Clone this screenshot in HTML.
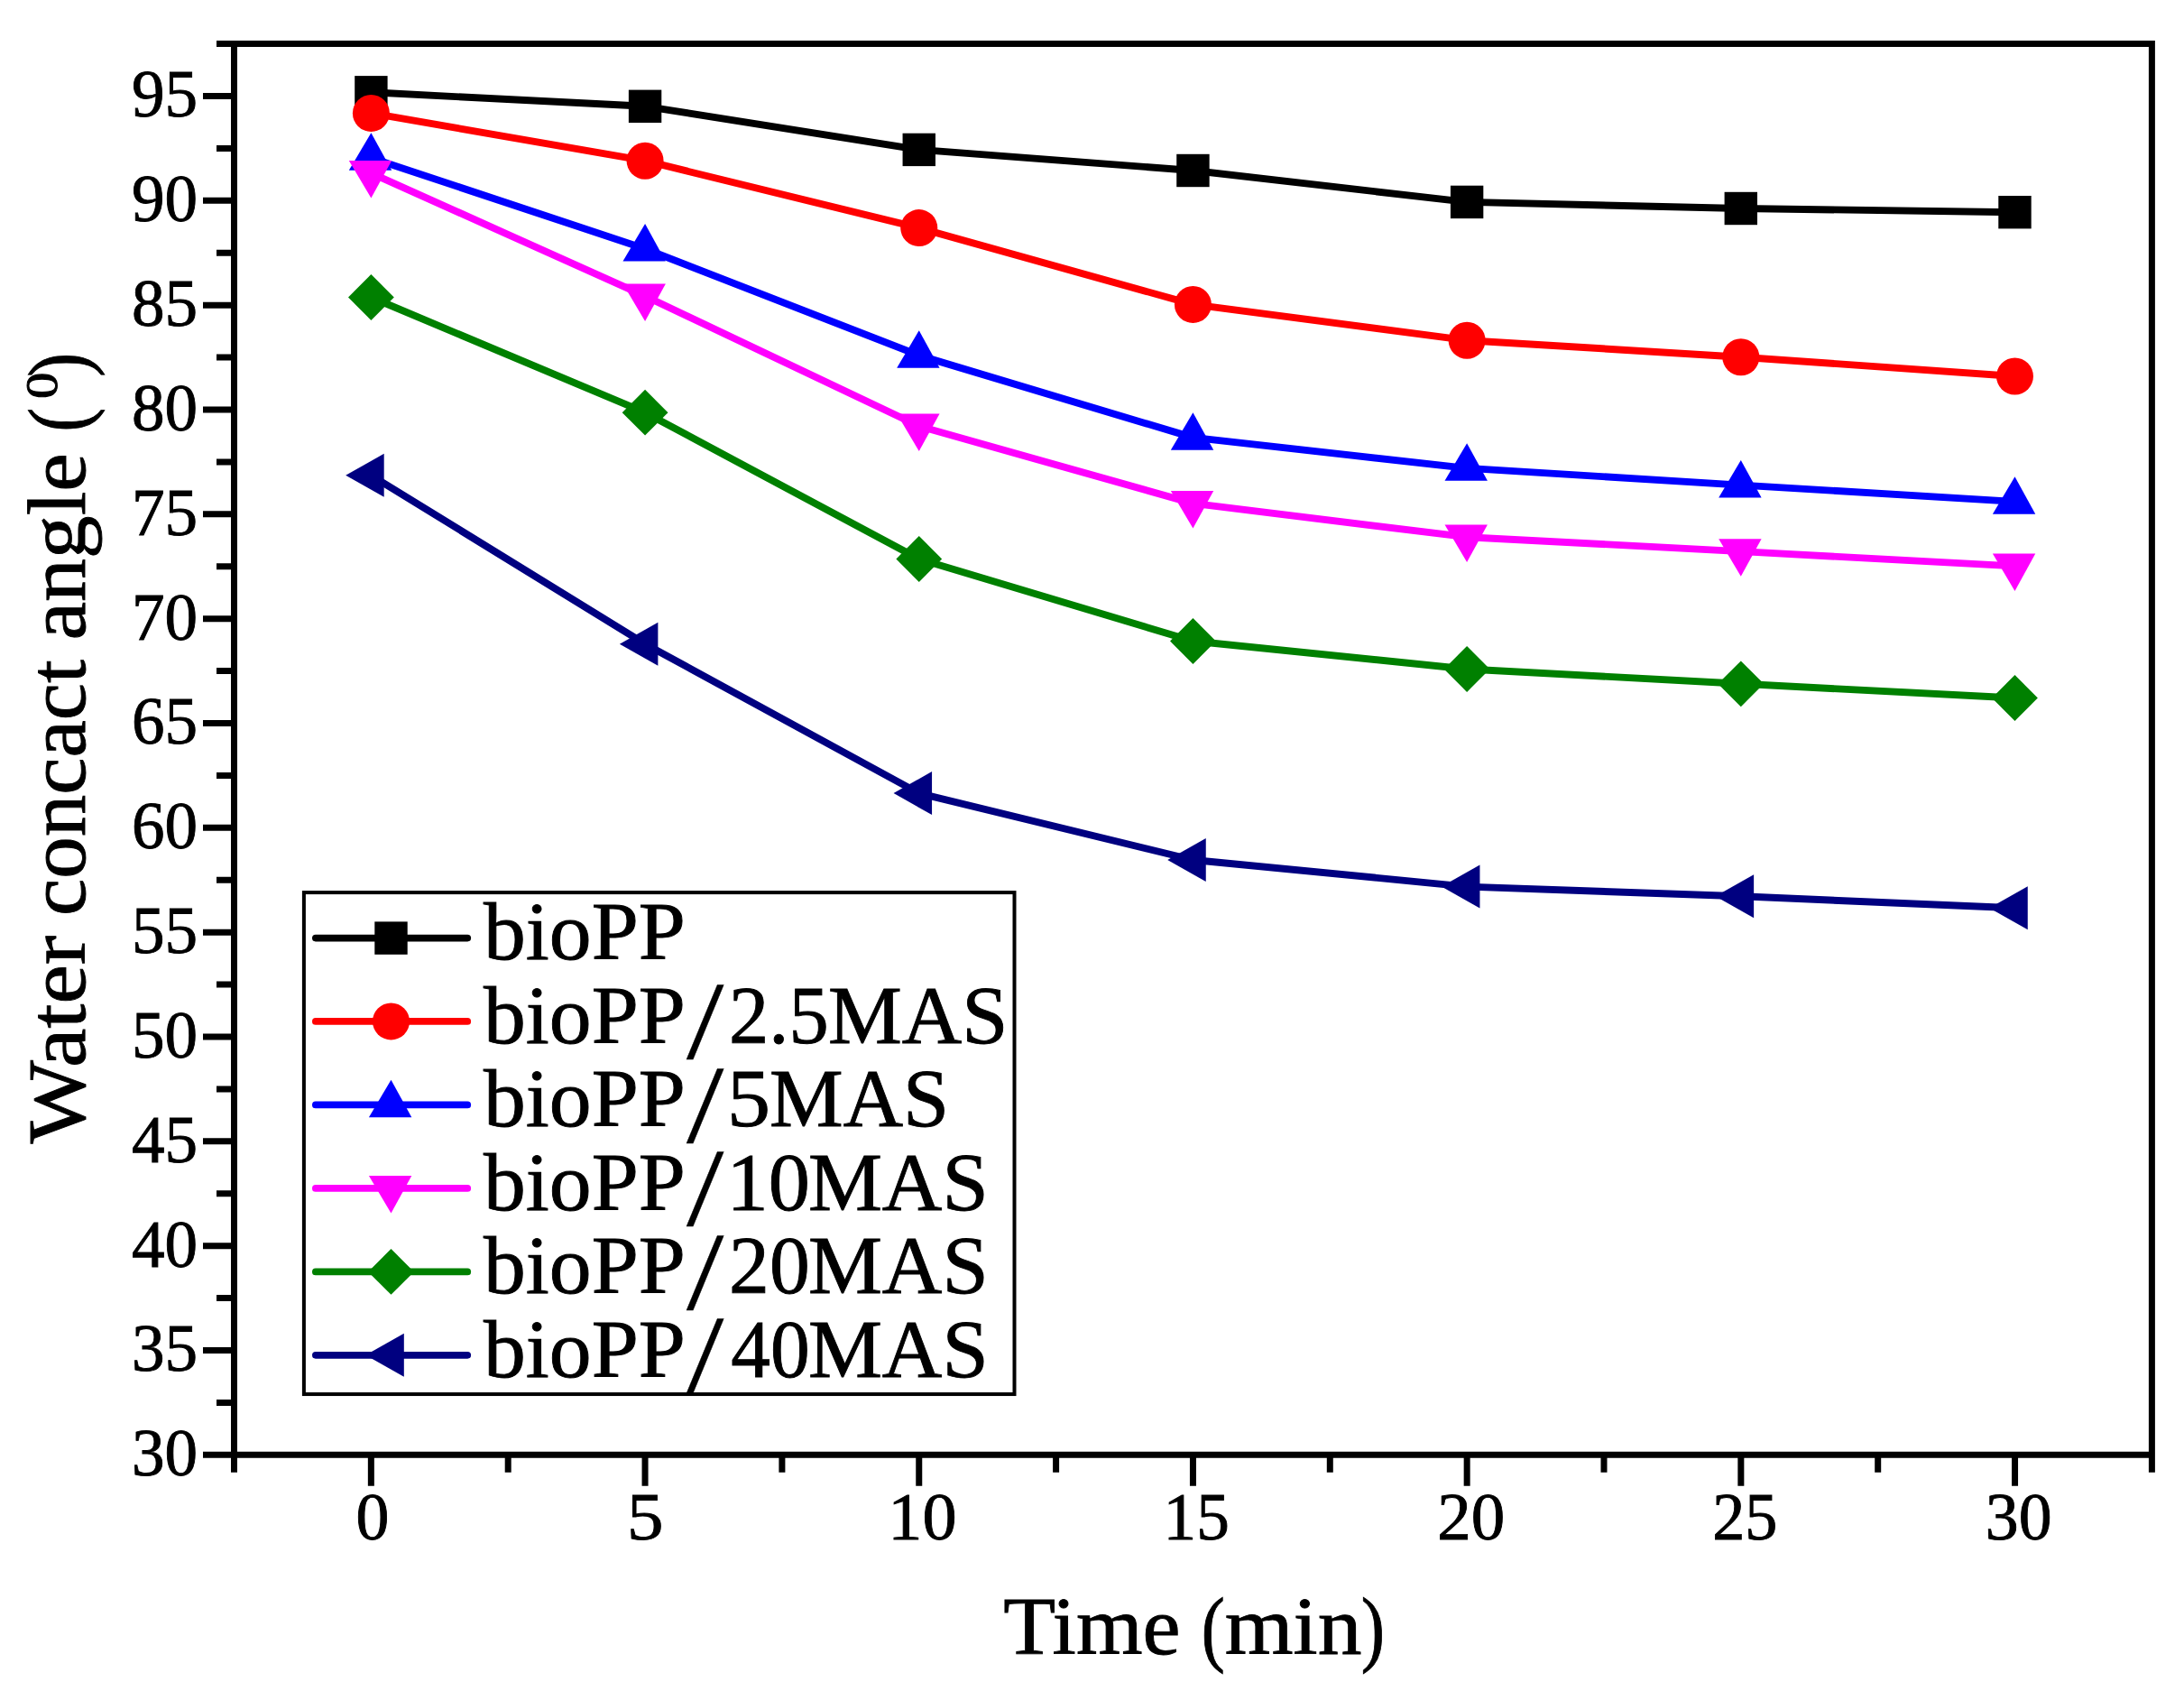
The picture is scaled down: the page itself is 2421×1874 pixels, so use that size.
<!DOCTYPE html>
<html lang="en"><head><meta charset="utf-8"><title>Water contact angle vs time</title>
<style>html,body{margin:0;padding:0;background:#fff}svg{display:block}</style></head>
<body>
<svg width="2421" height="1874" viewBox="0 0 2421 1874">
<rect width="2421" height="1874" fill="#ffffff"/>
<polyline points="411.4,102.3 715.08,117.8 1018.76,165.9 1322.44,189 1626.12,223.9 1929.8,231 2233.48,235.2" fill="none" stroke="#000000" stroke-width="7.9" stroke-linejoin="round"/>
<rect x="393.2" y="84.1" width="36.4" height="36.4" fill="#000000"/>
<rect x="696.88" y="99.6" width="36.4" height="36.4" fill="#000000"/>
<rect x="1000.56" y="147.7" width="36.4" height="36.4" fill="#000000"/>
<rect x="1304.24" y="170.8" width="36.4" height="36.4" fill="#000000"/>
<rect x="1607.92" y="205.7" width="36.4" height="36.4" fill="#000000"/>
<rect x="1911.6" y="212.8" width="36.4" height="36.4" fill="#000000"/>
<rect x="2215.28" y="217" width="36.4" height="36.4" fill="#000000"/>
<polyline points="411.4,125.4 715.08,178.2 1018.76,252.6 1322.44,337.4 1626.12,377.2 1929.8,395.7 2233.48,417" fill="none" stroke="#ff0000" stroke-width="7.9" stroke-linejoin="round"/>
<circle cx="411.4" cy="125.4" r="20.5" fill="#ff0000"/>
<circle cx="715.08" cy="178.2" r="20.5" fill="#ff0000"/>
<circle cx="1018.76" cy="252.6" r="20.5" fill="#ff0000"/>
<circle cx="1322.44" cy="337.4" r="20.5" fill="#ff0000"/>
<circle cx="1626.12" cy="377.2" r="20.5" fill="#ff0000"/>
<circle cx="1929.8" cy="395.7" r="20.5" fill="#ff0000"/>
<circle cx="2233.48" cy="417" r="20.5" fill="#ff0000"/>
<polyline points="411.4,174.9 715.08,275.7 1018.76,393.9 1322.44,484.9 1626.12,518.9 1929.8,537.6 2233.48,555.9" fill="none" stroke="#0000ff" stroke-width="7.9" stroke-linejoin="round"/>
<polygon points="411.4,147.2 434.2,188.7 386.8,188.7" fill="#0000ff"/>
<polygon points="715.08,248 737.88,289.5 690.48,289.5" fill="#0000ff"/>
<polygon points="1018.76,366.2 1041.56,407.7 994.16,407.7" fill="#0000ff"/>
<polygon points="1322.44,457.2 1345.24,498.7 1297.84,498.7" fill="#0000ff"/>
<polygon points="1626.12,491.2 1648.92,532.7 1601.52,532.7" fill="#0000ff"/>
<polygon points="1929.8,509.9 1952.6,551.4 1905.2,551.4" fill="#0000ff"/>
<polygon points="2233.48,528.2 2256.28,569.7 2208.88,569.7" fill="#0000ff"/>
<polyline points="411.4,191.8 715.08,328.2 1018.76,472.3 1322.44,557.9 1626.12,595.2 1929.8,611.1 2233.48,627.4" fill="none" stroke="#ff00ff" stroke-width="7.9" stroke-linejoin="round"/>
<polygon points="411.4,219.5 434.2,178 386.8,178" fill="#ff00ff"/>
<polygon points="715.08,355.9 737.88,314.4 690.48,314.4" fill="#ff00ff"/>
<polygon points="1018.76,500 1041.56,458.5 994.16,458.5" fill="#ff00ff"/>
<polygon points="1322.44,585.6 1345.24,544.1 1297.84,544.1" fill="#ff00ff"/>
<polygon points="1626.12,622.9 1648.92,581.4 1601.52,581.4" fill="#ff00ff"/>
<polygon points="1929.8,638.8 1952.6,597.3 1905.2,597.3" fill="#ff00ff"/>
<polygon points="2233.48,655.1 2256.28,613.6 2208.88,613.6" fill="#ff00ff"/>
<polyline points="411.4,329.5 715.08,457.2 1018.76,619.5 1322.44,710.5 1626.12,741.5 1929.8,757.8 2233.48,773.5" fill="none" stroke="#008000" stroke-width="7.9" stroke-linejoin="round"/>
<polygon points="411.4,304.1 436.8,329.5 411.4,354.9 386,329.5" fill="#008000"/>
<polygon points="715.08,431.8 740.48,457.2 715.08,482.6 689.68,457.2" fill="#008000"/>
<polygon points="1018.76,594.1 1044.16,619.5 1018.76,644.9 993.36,619.5" fill="#008000"/>
<polygon points="1322.44,685.1 1347.84,710.5 1322.44,735.9 1297.04,710.5" fill="#008000"/>
<polygon points="1626.12,716.1 1651.52,741.5 1626.12,766.9 1600.72,741.5" fill="#008000"/>
<polygon points="1929.8,732.4 1955.2,757.8 1929.8,783.2 1904.4,757.8" fill="#008000"/>
<polygon points="2233.48,748.1 2258.88,773.5 2233.48,798.9 2208.08,773.5" fill="#008000"/>
<polyline points="411.4,526.8 715.08,713.7 1018.76,879.1 1322.44,953 1626.12,982.6 1929.8,993.3 2233.48,1006.3" fill="none" stroke="#000080" stroke-width="7.9" stroke-linejoin="round"/>
<polygon points="383.2,526.8 425.7,502.8 425.7,550.8" fill="#000080"/>
<polygon points="686.88,713.7 729.38,689.7 729.38,737.7" fill="#000080"/>
<polygon points="990.56,879.1 1033.06,855.1 1033.06,903.1" fill="#000080"/>
<polygon points="1294.24,953 1336.74,929 1336.74,977" fill="#000080"/>
<polygon points="1597.92,982.6 1640.42,958.6 1640.42,1006.6" fill="#000080"/>
<polygon points="1901.6,993.3 1944.1,969.3 1944.1,1017.3" fill="#000080"/>
<polygon points="2205.28,1006.3 2247.78,982.3 2247.78,1030.3" fill="#000080"/>
<g stroke="#000" stroke-width="7.0" stroke-linecap="butt" fill="none">
<path stroke-linejoin="miter" d="M240 48.6H2385.4V1631.8M259.5 48.6V1631.8M225 1612.3H2385.4"/>
<path d="M258 1554.39H240M258 1496.47H225M258 1438.56H240M258 1380.64H225M258 1322.73H240M258 1264.81H225M258 1206.9H240M258 1148.98H225M258 1091.07H240M258 1033.15H225M258 975.24H240M258 917.32H225M258 859.41H240M258 801.49H225M258 743.58H240M258 685.66H225M258 627.75H240M258 569.83H225M258 511.92H240M258 454H225M258 396.09H240M258 338.17H225M258 280.26H240M258 222.34H225M258 164.43H240M258 106.51H225M411.35 1613.8V1646.8M563.2 1613.8V1631.8M715.05 1613.8V1646.8M866.9 1613.8V1631.8M1018.75 1613.8V1646.8M1170.6 1613.8V1631.8M1322.45 1613.8V1646.8M1474.3 1613.8V1631.8M1626.15 1613.8V1646.8M1778 1613.8V1631.8M1929.85 1613.8V1646.8M2081.7 1613.8V1631.8M2233.55 1613.8V1646.8"/>
</g>
<rect x="336.9" y="989.1" width="787.6" height="555.95" fill="#fff" stroke="#000" stroke-width="4.0"/>
<line x1="349.85" y1="1039.6" x2="518.25" y2="1039.6" stroke="#000000" stroke-width="7.7" stroke-linecap="round"/>
<rect x="415.3" y="1021.4" width="36.4" height="36.4" fill="#000000"/>
<line x1="349.85" y1="1131.9" x2="518.25" y2="1131.9" stroke="#ff0000" stroke-width="7.7" stroke-linecap="round"/>
<circle cx="433.5" cy="1131.9" r="20.5" fill="#ff0000"/>
<line x1="349.85" y1="1224.4" x2="518.25" y2="1224.4" stroke="#0000ff" stroke-width="7.7" stroke-linecap="round"/>
<polygon points="433.5,1196.7 456.3,1238.2 408.9,1238.2" fill="#0000ff"/>
<line x1="349.85" y1="1316.9" x2="518.25" y2="1316.9" stroke="#ff00ff" stroke-width="7.7" stroke-linecap="round"/>
<polygon points="433.5,1344.6 456.3,1303.1 408.9,1303.1" fill="#ff00ff"/>
<line x1="349.85" y1="1409.4" x2="518.25" y2="1409.4" stroke="#008000" stroke-width="7.7" stroke-linecap="round"/>
<polygon points="433.5,1384 458.9,1409.4 433.5,1434.8 408.1,1409.4" fill="#008000"/>
<line x1="349.85" y1="1501.8" x2="518.25" y2="1501.8" stroke="#000080" stroke-width="7.7" stroke-linecap="round"/>
<polygon points="405.3,1501.8 447.8,1477.8 447.8,1525.8" fill="#000080"/>
<g font-family="'Liberation Serif', serif" fill="#000" stroke="#000" stroke-width="0.9">
<g><text transform="translate(536 1063.3) scale(1.0184 1.0000)" font-size="92">bioPP</text></g>
<g><text transform="translate(536 1155.8) scale(1.0184 1.0000)" font-size="92">bioPP</text><text transform="translate(761 1173.06) scale(1.6154 1.3443)" font-size="92" stroke-width="0.25">/</text><text transform="translate(808.05 1155.8) scale(0.9620 1.0000)" font-size="92">2.5</text><text transform="translate(918 1155.8) scale(1.0000 1.0000)" font-size="92">MAS</text></g>
<g><text transform="translate(536 1248.3) scale(1.0184 1.0000)" font-size="92">bioPP</text><text transform="translate(761 1265.56) scale(1.6154 1.3443)" font-size="92" stroke-width="0.25">/</text><text transform="translate(805.88 1248.3) scale(1.0447 1.0000)" font-size="92">5</text><text transform="translate(853 1248.3) scale(0.9990 1.0000)" font-size="92">MAS</text></g>
<g><text transform="translate(536 1340.8) scale(1.0184 1.0000)" font-size="92">bioPP</text><text transform="translate(761 1358.06) scale(1.6154 1.3443)" font-size="92" stroke-width="0.25">/</text><text transform="translate(805.47 1340.8) scale(1.0037 1.0000)" font-size="92">10</text><text transform="translate(895.9 1340.8) scale(1.0021 1.0000)" font-size="92">MAS</text></g>
<g><text transform="translate(536 1433.3) scale(1.0184 1.0000)" font-size="92">bioPP</text><text transform="translate(761 1450.56) scale(1.6154 1.3443)" font-size="92" stroke-width="0.25">/</text><text transform="translate(808.1 1433.3) scale(0.9741 1.0000)" font-size="92">20</text><text transform="translate(895.9 1433.3) scale(1.0021 1.0000)" font-size="92">MAS</text></g>
<g><text transform="translate(536 1525.8) scale(1.0184 1.0000)" font-size="92">bioPP</text><text transform="translate(761 1543.06) scale(1.6154 1.3443)" font-size="92" stroke-width="0.25">/</text><text transform="translate(810.15 1525.8) scale(0.9511 1.0000)" font-size="92">40</text><text transform="translate(895.9 1525.8) scale(1.0021 1.0000)" font-size="92">MAS</text></g>
<g><text transform="translate(1112.16 1832.9) scale(1.0395 1.0000)" font-size="91">Time </text><text transform="translate(1331.87 1834.9) scale(0.8583 1.0298)" font-size="91">(</text><text transform="translate(1357.73 1832.9) scale(1.0714 1.0000)" font-size="91">min</text><text transform="translate(1508.66 1834.9) scale(0.8680 1.0298)" font-size="91">)</text></g>
<g><text transform="translate(94 1267.3) rotate(-90) scale(1.0730 1.0000)" font-size="91">Water </text><text transform="translate(94 1015.07) rotate(-90) scale(1.0218 1.0000)" font-size="91">concact </text><text transform="translate(94 709.56) rotate(-90) scale(1.0529 1.0000)" font-size="91">angle </text><text transform="translate(95.55 478.4) rotate(-90) scale(0.8750 1.0274)" font-size="91">(</text><text transform="translate(63.1 442.12) rotate(-90) scale(1.2227 1.0406)" font-size="48">0</text><text transform="translate(95.55 417.77) rotate(-90) scale(0.8840 1.0274)" font-size="91">)</text></g>
<text transform="translate(146.02 1635.2) scale(0.9750 1)" font-size="75">30</text>
<text transform="translate(146.02 1519.37) scale(0.9750 1)" font-size="75">35</text>
<text transform="translate(146.02 1403.54) scale(0.9750 1)" font-size="75">40</text>
<text transform="translate(146.02 1287.71) scale(0.9750 1)" font-size="75">45</text>
<text transform="translate(146.02 1171.88) scale(0.9750 1)" font-size="75">50</text>
<text transform="translate(146.02 1056.05) scale(0.9750 1)" font-size="75">55</text>
<text transform="translate(146.02 940.22) scale(0.9750 1)" font-size="75">60</text>
<text transform="translate(146.02 824.39) scale(0.9750 1)" font-size="75">65</text>
<text transform="translate(146.02 708.56) scale(0.9750 1)" font-size="75">70</text>
<text transform="translate(146.02 592.73) scale(0.9750 1)" font-size="75">75</text>
<text transform="translate(146.02 476.9) scale(0.9750 1)" font-size="75">80</text>
<text transform="translate(146.02 361.07) scale(0.9750 1)" font-size="75">85</text>
<text transform="translate(146.02 245.24) scale(0.9750 1)" font-size="75">90</text>
<text transform="translate(146.02 129.41) scale(0.9750 1)" font-size="75">95</text>
<text transform="translate(394.53 1705.6) scale(0.9848 1)" font-size="75">0</text>
<text transform="translate(694.88 1705.6) scale(1.0806 1)" font-size="75">5</text>
<text transform="translate(984.3 1705.6) scale(1.0164 1)" font-size="75">10</text>
<text transform="translate(1289.54 1705.6) scale(0.9761 1)" font-size="75">15</text>
<text transform="translate(1593.2 1705.6) scale(1.0000 1)" font-size="75">20</text>
<text transform="translate(1898.32 1705.6) scale(0.9614 1)" font-size="75">25</text>
<text transform="translate(2200.85 1705.6) scale(0.9829 1)" font-size="75">30</text>
</g>
</svg>
</body></html>
